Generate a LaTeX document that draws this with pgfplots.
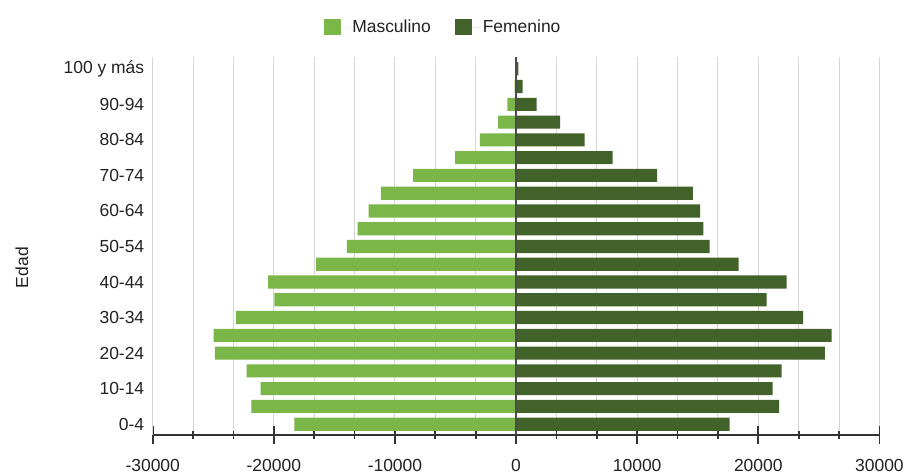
\documentclass[border=0pt]{standalone}
\usepackage{fontspec}
\setmainfont{Liberation Sans}
\usepackage{pgfplots}
\pgfplotsset{compat=1.18}
\usetikzlibrary{calc}

\definecolor{masc}{HTML}{7AB648}
\definecolor{fem}{HTML}{41632A}
\definecolor{txt}{HTML}{222222}
\definecolor{gridc}{HTML}{D6D6D6}

\begin{document}
\begin{tikzpicture}
\begin{axis}[
    scale only axis,
    width=728bp, height=379bp,
    xbar, bar width=0.74,
    xmin=-30000, xmax=30000,
    ymin=-0.62, ymax=20.67,
    axis x line=bottom,
    axis y line=left,
    x axis line style={-, draw=black!80, line width=1.8pt},
    y axis line style={-, draw=gridc, line width=1pt},
    xtick={-30000,-20000,...,30000},
    minor x tick num=2,
    tick align=center,
    major tick length=18bp,
    minor tick length=8bp,
    xtick style={draw=black!80, line width=1.8pt},
    ytick style={draw=none},
    scaled x ticks=false,
    xticklabel={\pgfmathprintnumber[fixed,1000 sep={}]{\tick}},
    ytick={0,2,...,20},
    yticklabels={0-4,10-14,20-24,30-34,40-44,50-54,60-64,70-74,80-84,90-94,100 y más},
    xmajorgrids, xminorgrids,
    major grid style={draw=gridc, line width=1pt},
    minor grid style={draw=gridc, line width=1pt},
    /pgf/number format/assume math mode=true,
    tick label style={font=\fontsize{17.5bp}{20bp}\selectfont, text=txt},
    xticklabel style={yshift=-12bp},
    yticklabel style={xshift=4bp},
    ylabel={Edad},
    every axis y label/.style={at={(axis description cs:-0.18,0.443)}, anchor=center, rotate=90, font=\fontsize{17.5bp}{20bp}\selectfont, text=txt},
    legend style={at={(axis description cs:0.40,1.079)}, anchor=center, draw=none, fill=none,
                  font=\fontsize{17.5bp}{20bp}\selectfont, text=txt,
                  legend columns=2,
                  /tikz/every even column/.append style={column sep=22bp}},
    legend image code/.code={\fill[#1] (0bp,-8.5bp) rectangle (17bp,8.5bp); \path (17bp,0bp) -- (26bp,0bp);},
]

% Masculino (negative side)
\addplot[fill=masc, draw=none, bar shift=0pt] coordinates {
(-18300,0) (-21850,1) (-21100,2) (-22250,3) (-24870,4) (-24980,5) (-23140,6)
(-19950,7) (-20470,8) (-16510,9) (-13960,10) (-13080,11) (-12170,12) (-11160,13)
(-8490,14) (-5030,15) (-2990,16) (-1480,17) (-720,18) (-120,19) (-40,20)
};
\addlegendentry{Masculino}

% Femenino (positive side)
\addplot[fill=fem, draw=none, bar shift=0pt] coordinates {
(17640,0) (21710,1) (21190,2) (21930,3) (25500,4) (26050,5) (23710,6)
(20690,7) (22340,8) (18380,9) (15990,10) (15470,11) (15200,12) (14590,13)
(11650,14) (7970,15) (5660,16) (3630,17) (1700,18) (550,19) (190,20)
};
\addlegendentry{Femenino}

\draw[black!70, line width=1.5pt] (axis cs:0,-0.62) -- (axis cs:0,20.67);
\end{axis}
\path ($(current axis.south west)+(-153bp,-36bp)$) rectangle ($(current axis.north east)+(26bp,57bp)$);
\end{tikzpicture}
\end{document}
